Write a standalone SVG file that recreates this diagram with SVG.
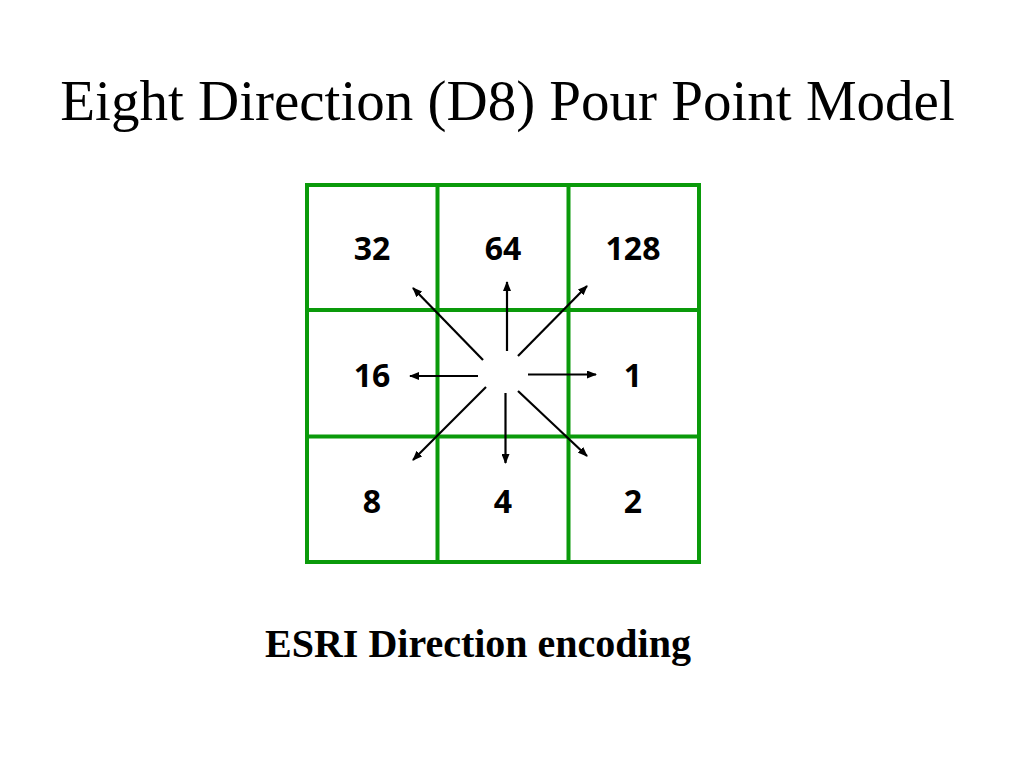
<svg xmlns="http://www.w3.org/2000/svg" width="1024" height="768" viewBox="0 0 1024 768">
<defs>
<style>
.grid{fill:none;stroke:#0a9a0a;stroke-width:4}
.num{font-family:"Open Sans","Liberation Sans",sans-serif;font-weight:bold;font-size:32px;fill:#000;text-anchor:middle}
.arr{stroke:#000;stroke-width:2.2;fill:none;marker-end:url(#ah)}
</style>
<marker id="ah" viewBox="0 0 10 8" refX="9" refY="4" markerWidth="10" markerHeight="8" markerUnits="userSpaceOnUse" orient="auto">
<path d="M0,0 L10,4 L0,8 Z" fill="#000"/>
</marker>
</defs>
<rect width="1024" height="768" fill="#fff"/>
<text x="507.5" y="120" font-family="Liberation Serif,serif" font-size="57" text-anchor="middle" fill="#000">Eight Direction (D8) Pour Point Model</text>
<g id="grid">
<rect class="grid" x="307" y="185" width="392" height="377"/>
<line class="grid" x1="437.5" y1="185" x2="437.5" y2="562"/>
<line class="grid" x1="568.5" y1="185" x2="568.5" y2="562"/>
<line class="grid" x1="307" y1="310" x2="699" y2="310"/>
<line class="grid" x1="307" y1="436.5" x2="699" y2="436.5"/>
</g>
<g id="cell-32"><text class="num" x="372" y="260">32</text></g>
<g id="cell-64"><text class="num" x="503" y="260">64</text></g>
<g id="cell-128"><text class="num" x="633" y="260">128</text></g>
<g id="cell-16"><text class="num" x="372" y="387">16</text></g>
<g id="cell-1"><text class="num" x="633" y="387">1</text></g>
<g id="cell-8"><text class="num" x="372" y="513">8</text></g>
<g id="cell-4"><text class="num" x="503" y="513">4</text></g>
<g id="cell-2"><text class="num" x="633" y="513">2</text></g>
<g id="connectors">
<line class="arr" x1="507" y1="351" x2="507" y2="282"/>
<line class="arr" x1="518" y1="356" x2="587" y2="286"/>
<line class="arr" x1="483" y1="360" x2="413" y2="288"/>
<line class="arr" x1="478" y1="376" x2="410" y2="376"/>
<line class="arr" x1="528" y1="374.5" x2="596" y2="374.5"/>
<line class="arr" x1="486" y1="387" x2="413" y2="460"/>
<line class="arr" x1="505.5" y1="393" x2="505.5" y2="463"/>
<line class="arr" x1="518" y1="391" x2="587" y2="456"/>
</g>
<text x="478" y="657" font-family="Liberation Serif,serif" font-weight="bold" font-size="40" text-anchor="middle" fill="#000">ESRI Direction encoding</text>
</svg>
